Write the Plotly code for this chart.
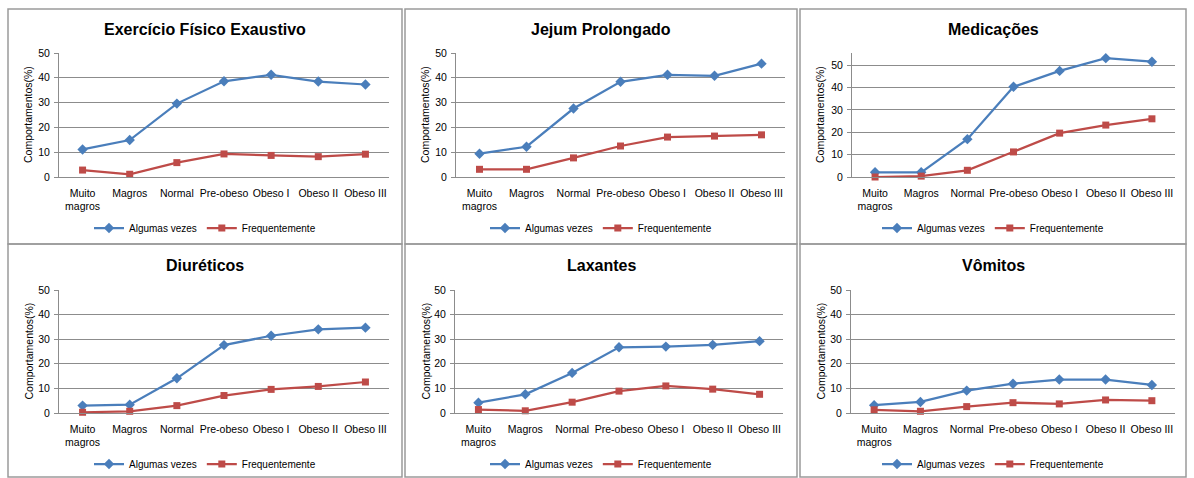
import plotly.graph_objects as go

W, H = 1194, 478

# Categories (BMI classes) shared by every panel
categories = ["Muito<br>magros", "Magros", "Normal", "Pre-obeso", "Obeso I", "Obeso II", "Obeso III"]
series_names = ["Algumas vezes", "Frequentemente"]
titles = ["Exercício Físico Exaustivo", "Jejum Prolongado", "Medicações",
          "Diuréticos", "Laxantes", "Vômitos"]
y_title = "Comportamentos(%)"
y_ticks = [0, 10, 20, 30, 40, 50]

# Percentages per behaviour
exercicio_algumas = [11.1, 14.9, 29.6, 38.6, 41.2, 38.5, 37.3]
exercicio_freq = [2.8, 1.1, 5.8, 9.3, 8.7, 8.2, 9.2]
jejum_algumas = [9.4, 12.2, 27.6, 38.4, 41.2, 40.8, 45.7]
jejum_freq = [3.1, 3.1, 7.7, 12.5, 16.1, 16.5, 17.0]
medicacoes_algumas = [2.1, 2.1, 16.9, 40.3, 47.4, 53.1, 51.5]
medicacoes_freq = [0.0, 0.4, 3.0, 11.2, 19.6, 23.2, 26.0]
diureticos_algumas = [3.0, 3.4, 14.1, 27.6, 31.4, 34.0, 34.7]
diureticos_freq = [0.3, 0.7, 3.0, 7.1, 9.6, 10.8, 12.6]
laxantes_algumas = [4.2, 7.6, 16.3, 26.7, 27.0, 27.7, 29.2]
laxantes_freq = [1.4, 0.9, 4.4, 8.9, 11.0, 9.7, 7.6]
vomitos_algumas = [3.2, 4.5, 9.1, 11.9, 13.6, 13.6, 11.4]
vomitos_freq = [1.3, 0.7, 2.6, 4.2, 3.7, 5.3, 5.0]

panel_data = [
    (exercicio_algumas, exercicio_freq),
    (jejum_algumas, jejum_freq),
    (medicacoes_algumas, medicacoes_freq),
    (diureticos_algumas, diureticos_freq),
    (laxantes_algumas, laxantes_freq),
    (vomitos_algumas, vomitos_freq),
]
y_max = [50, 50, 55.4, 50, 50, 50]

# Layout geometry in pixels
frames = [(8, 9, 402, 244), (405, 9, 797, 244), (800, 9, 1186, 244),
          (8, 244, 402, 477), (405, 244, 797, 477), (800, 244, 1186, 477)]
plots = [(59, 53, 389, 177), (456, 53, 785, 177), (852, 53, 1175, 177),
         (59, 290, 389, 413), (455, 290, 783, 413), (851, 290, 1175, 413)]
title_y = [29, 29, 29, 265, 265, 265]
legend_y = [228, 228, 228, 464, 464, 464]
ytitle_x = [28, 425, 820, 28, 425, 820]

FONT = "Liberation Sans, Arial, sans-serif"
BLUE = "#4A7EBB"
RED = "#BE4B48"
GRID = "#8C8C8C"


def px(x):
    return x / W


def py(y):
    return 1 - y / H


fig = go.Figure()
layout = dict(
    width=W, height=H,
    margin=dict(l=0, r=0, t=0, b=0, autoexpand=False),
    paper_bgcolor="white", plot_bgcolor="white",
    font=dict(family=FONT, color="#000000", size=10),
    shapes=[], annotations=[],
)

for i, (vals, title) in enumerate(zip(panel_data, titles)):
    n = i + 1
    xa = "x" if n == 1 else f"x{n}"
    ya = "y" if n == 1 else f"y{n}"
    lg = "legend" if n == 1 else f"legend{n}"
    algumas, freq = vals

    fig.add_trace(go.Scatter(
        x=categories, y=algumas, name=series_names[0], mode="lines+markers",
        line=dict(color=BLUE, width=2.25),
        marker=dict(symbol="diamond", size=8, color=BLUE),
        xaxis=xa, yaxis=ya, legend=lg, cliponaxis=False,
    ))
    fig.add_trace(go.Scatter(
        x=categories, y=freq, name=series_names[1], mode="lines+markers",
        line=dict(color=RED, width=2.25),
        marker=dict(symbol="square", size=7, color=RED),
        xaxis=xa, yaxis=ya, legend=lg, cliponaxis=False,
    ))

    x0, y0, x1, y1 = plots[i]
    xkey = "xaxis" if n == 1 else f"xaxis{n}"
    ykey = "yaxis" if n == 1 else f"yaxis{n}"
    layout[xkey] = dict(
        domain=[px(x0), px(x1)], anchor=ya, type="category",
        range=[-0.5, 6.5], showgrid=False, zeroline=False,
        showline=True, linecolor=GRID, linewidth=1,
        ticks="", ticklabelstandoff=6,
        tickfont=dict(size=10.5, family=FONT, color="#000000"),
        fixedrange=True,
    )
    layout[ykey] = dict(
        domain=[py(y1), py(y0)], anchor=xa,
        range=[0, y_max[i]], tickvals=y_ticks,
        showgrid=True, gridcolor=GRID, gridwidth=1, zeroline=False,
        showline=True, linecolor=GRID, linewidth=1,
        ticks="outside", ticklen=4, tickcolor=GRID, ticklabelstandoff=2,
        tickfont=dict(size=10.5, family=FONT, color="#000000"),
        fixedrange=True,
    )

    fx0, fy0, fx1, fy1 = frames[i]
    layout["shapes"].append(dict(
        type="rect", xref="paper", yref="paper",
        x0=px(fx0), x1=px(fx1), y0=py(fy1), y1=py(fy0),
        line=dict(color="#9A9A9A", width=1.5), fillcolor="rgba(0,0,0,0)",
        layer="below",
    ))

    cx = (fx0 + fx1) / 2
    layout["annotations"].append(dict(
        text=f"<b>{title}</b>", xref="paper", yref="paper",
        x=px(cx), y=py(title_y[i]), xanchor="center", yanchor="middle",
        showarrow=False, font=dict(size=16, family=FONT, color="#000000"),
    ))
    layout["annotations"].append(dict(
        text=y_title, xref="paper", yref="paper", textangle=-90,
        x=px(ytitle_x[i]), y=py((y0 + y1) / 2), xanchor="center", yanchor="middle",
        showarrow=False, font=dict(size=10.5, family=FONT, color="#000000"),
    ))

    layout[lg] = dict(
        orientation="h", x=px(cx), y=py(legend_y[i]),
        xanchor="center", yanchor="middle",
        bgcolor="rgba(0,0,0,0)", itemwidth=30,
        font=dict(size=10, family=FONT, color="#000000"),
        itemclick=False, itemdoubleclick=False,
    )

fig.update_layout(**layout)
fig.write_html("out.html")
